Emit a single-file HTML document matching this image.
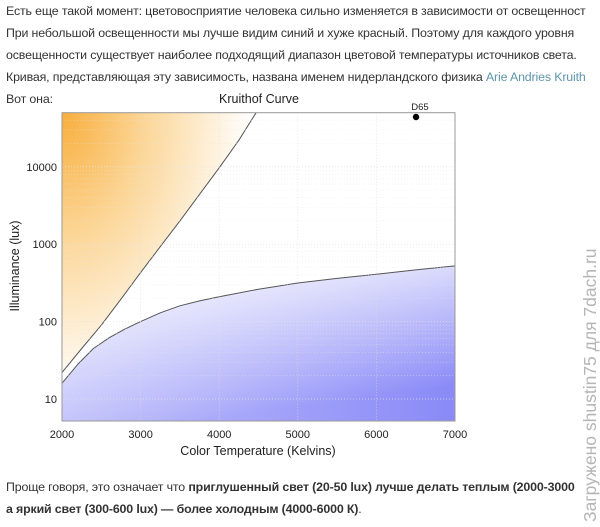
<!DOCTYPE html>
<html><head><meta charset="utf-8"><style>
body{margin:0;width:600px;height:527px;background:#fff;overflow:hidden;position:relative;font-family:"Liberation Sans","DejaVu Sans",sans-serif}
.t{position:absolute;left:6px;font-size:12.4px;color:#333;white-space:nowrap;line-height:22px;letter-spacing:-0.15px}
a{color:#5f95ad;text-decoration:none}
.wm{position:absolute;left:580px;top:522px;transform-origin:0 0;transform:rotate(-90deg);font-size:17.5px;color:#b5b5b5;white-space:nowrap}
</style></head><body>
<div class="t" style="top:0">Есть еще такой момент: цветовосприятие человека сильно изменяется в зависимости от освещенност<br>При небольшой освещенности мы лучше видим синий и хуже красный. Поэтому для каждого уровня<br>освещенности существует наиболее подходящий диапазон цветовой температуры источников света.<br>Кривая, представляющая эту зависимость, названа именем нидерландского физика <a href="#">Arie Andries Kruith</a><br>Вот она:</div>
<svg id="chart" width="600" height="527" style="position:absolute;left:0;top:0" xmlns="http://www.w3.org/2000/svg">
<defs>
<radialGradient id="og" cx="62" cy="112" r="190" gradientUnits="userSpaceOnUse" gradientTransform="translate(62 112) scale(1 1.5) translate(-62 -112)"><stop offset="0" stop-color="#f8ae3c"/><stop offset="0.45" stop-color="#fcd79a"/><stop offset="1" stop-color="#fff"/></radialGradient>
<linearGradient id="bg" x1="0" y1="0" x2="0.35" y2="1"><stop offset="0" stop-color="#fff"/><stop offset="1" stop-color="#8a8af8"/></linearGradient>
<linearGradient id="bg2" x1="0" y1="0" x2="1" y2="0"><stop offset="0" stop-color="#fff" stop-opacity="0.45"/><stop offset="1" stop-color="#fff" stop-opacity="0"/></linearGradient>
<clipPath id="pc"><rect x="62" y="112.7" width="393" height="308.3"/></clipPath>
</defs>
<g id="plot"></g>
</svg>
<div class="t" style="top:476px">Проще говоря, это означает что <b>приглушенный свет (20-50 lux) лучше делать теплым (2000-3000</b><br><b>а яркий свет (300-600 lux) — более холодным (4000-6000 К)</b>.</div>
<div class="wm">Загружено shustin75 для 7dach.ru</div>
<script>
const upperK=[2000,2250,2500,2750,3000,3250,3500,3750,4000,4250,4470];
const upperLux=[22,45,90,195,430,930,2000,4400,9700,22000,50000];
const lowerK=[2000,2200,2400,2600,2800,3000,3250,3500,3750,4000,4500,5000,5500,6000,6500,7000];
const lowerLux=[16,28,45,62,80,100,130,160,185,210,262,315,362,410,465,525];
const xTicks=[2000,3000,4000,5000,6000,7000];
const yTicks=[10,100,1000,10000];
const d65=[6504,44000];
const NS="http://www.w3.org/2000/svg";
const L=62,R=455,T=112.7,B=421,xMin=2000,xMax=7000,yMin=Math.log10(5.2),yMax=Math.log10(50000);
const X=k=>L+(k-xMin)/(xMax-xMin)*(R-L);
const Y=v=>B-(Math.log10(v)-yMin)/(yMax-yMin)*(B-T);
const g=document.getElementById('plot');
function mk(tag,at,parent){const e=document.createElementNS(NS,tag);for(const k in at)e.setAttribute(k,at[k]);(parent||g).appendChild(e);return e;}
function path(ks,vs){let d='';for(let i=0;i<ks.length;i++){d+=(i?'L':'M')+X(ks[i]).toFixed(1)+','+Y(vs[i]).toFixed(1);}return d;}
mk('rect',{x:L,y:T,width:R-L,height:B-T,fill:'#fff'});
const cg=mk('g',{'clip-path':'url(#pc)'});
const up=path(upperK,upperLux),lo=path(lowerK,lowerLux);
let e=mk('path',{d:up+`L${L},${T}Z`,fill:'url(#og)'},cg);

e=mk('path',{d:lo+`L${R},${B}L${L},${B}Z`,fill:'url(#bg)'},cg);

mk('path',{d:lo+`L${R},${B}L${L},${B}Z`,fill:'url(#bg2)'},cg);
for(const t of xTicks){mk('line',{x1:X(t),x2:X(t),y1:T,y2:B,stroke:'#ddd','stroke-width':0.6,'stroke-dasharray':'1,2'});}
for(let dcd=1;dcd<=4;dcd++)for(let m=1;m<10;m++){const v=m*Math.pow(10,dcd);if(v>50000)break;mk('line',{x1:L,x2:R,y1:Y(v),y2:Y(v),stroke:'#e4e4e4','stroke-width':m==1?0.8:0.4,'stroke-dasharray':'1,2'});}
e=mk('path',{d:up,fill:'none',stroke:'#555','stroke-width':1,'stroke-linejoin':'round'},cg);

e=mk('path',{d:lo,fill:'none',stroke:'#555','stroke-width':1,'stroke-linejoin':'round'},cg);

mk('rect',{x:L,y:T,width:R-L,height:B-T,fill:'none',stroke:'#999','stroke-width':1});
for(const t of xTicks){e=mk('text',{x:X(t),y:438,'text-anchor':'middle','font-size':11,fill:'#222'});e.textContent=t;
}
for(const t of yTicks){e=mk('text',{x:57,y:Y(t)+4,'text-anchor':'end','font-size':11,fill:'#222'});e.textContent=t;
}
e=mk('text',{x:258,y:455,'text-anchor':'middle','font-size':12.5,fill:'#222'});e.textContent='Color Temperature (Kelvins)';

e=mk('text',{x:19,y:266,'text-anchor':'middle','font-size':12.5,fill:'#222',transform:'rotate(-90 19 266)'});e.textContent='Illuminance (lux)';

e=mk('text',{x:259,y:103,'text-anchor':'middle','font-size':12.5,fill:'#222'});e.textContent='Kruithof Curve';

e=mk('circle',{cx:X(d65[0]),cy:Y(d65[1]),r:3.2,fill:'#000'});

e=mk('text',{x:X(d65[0])+4,y:110,'text-anchor':'middle','font-size':9.5,fill:'#222'});e.textContent='D65';

</script>
</body></html>
